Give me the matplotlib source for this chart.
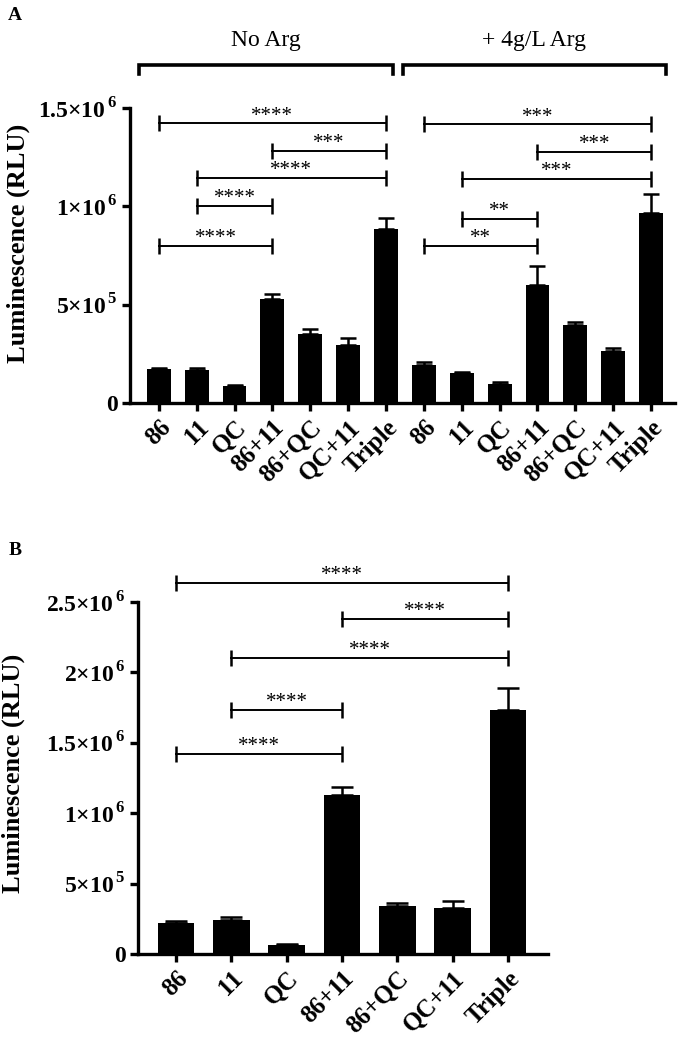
import numpy as np
import matplotlib
matplotlib.use('Agg')
import matplotlib.pyplot as plt
from matplotlib.ticker import FixedLocator, FuncFormatter

plt.rcParams["font.family"] = ["Liberation Serif", "DejaVu Serif"]
plt.rcParams["mathtext.fontset"] = "custom"
plt.rcParams["mathtext.rm"] = "Liberation Serif:bold"
plt.rcParams["mathtext.bf"] = "Liberation Serif:bold"

# data
groups = ['86', '11', 'QC', '86+11', '86+QC', 'QC+11', 'Triple']

noarg_mean = [171e3, 168e3, 88e3, 527e3, 351e3, 293e3, 883e3]
noarg_err = [5e3, 10e3, 3e3, 27e3, 25e3, 37e3, 59e3]
arg_mean = [193e3, 151e3, 95e3, 600e3, 396e3, 266e3, 967e3]
arg_err = [17e3, 8e3, 10e3, 98e3, 17e3, 15e3, 95e3]

b_mean = [222e3, 240e3, 62e3, 1127e3, 342e3, 327e3, 1734e3]
b_err = [10e3, 21e3, 11e3, 59e3, 23e3, 50e3, 152e3]

# comparisons: (left bar, right bar, label, bracket height)
noarg_sig = [(0, 6, '****', 1.422e6), (3, 6, '***', 1.283e6), (1, 6, '****', 1.144e6),
             (1, 3, '****', 1.002e6), (0, 3, '****', 0.798e6)]
arg_sig = [(0, 6, '***', 1.417e6), (3, 6, '***', 1.276e6), (1, 6, '***', 1.138e6),
           (1, 3, '**', 0.936e6), (0, 3, '**', 0.800e6)]
b_sig = [(0, 6, '****', 2.638e6), (3, 6, '****', 2.382e6), (1, 6, '****', 2.104e6),
         (1, 3, '****', 1.734e6), (0, 3, '****', 1.423e6)]


def sci(v, pos):
    if v == 0:
        return '0'
    e = int(np.floor(np.log10(v)))
    m = v / 10**e
    ms = ('%g' % m)
    return ms + '\u00d710$^{\\,%d}$' % e


def style_axis(ax, yticks):
    for s in ['top', 'right']:
        ax.spines[s].set_visible(False)
    for s in ['left', 'bottom']:
        ax.spines[s].set_linewidth(2.4)
    ax.yaxis.set_major_locator(FixedLocator(yticks))
    ax.yaxis.set_major_formatter(FuncFormatter(sci))
    ax.tick_params(axis='both', width=2.4, length=6, labelsize=17, pad=3)
    for lab in ax.get_yticklabels():
        lab.set_fontweight('bold')


def brackets(ax, sig, off, fs=15):
    for i, j, lab, h in sig:
        ax.plot([i + off, j + off], [h, h], color='black', lw=1.4, marker='|',
                markersize=12, markeredgewidth=1.8, clip_on=False)
        ax.annotate(lab, xy=((i + j) / 2 + off, h), xytext=(0, 2), textcoords='offset points',
                    ha='center', va='baseline', fontsize=fs, annotation_clip=False)


fig = plt.figure(figsize=(6.79, 10.39), dpi=100)

# ---- panel A
axA = fig.add_axes([0.1915, 0.6121, 0.8025, 0.2839])
x = np.arange(14)
meansA = noarg_mean + arg_mean
errsA = noarg_err + arg_err
axA.bar(x, meansA, width=0.63, color='black')
axA.errorbar(x, meansA, yerr=[np.zeros(14), errsA], fmt='none', ecolor='black',
             elinewidth=1.8, capsize=5.5, capthick=1.8)
axA.set_xlim(-0.76, 13.63)
axA.set_ylim(0, 1.5e6)
style_axis(axA, [0, 5e5, 1e6, 1.5e6])
axA.set_xticks(x)
axA.set_xticklabels(groups + groups, rotation=45, ha='right', rotation_mode='anchor',
                    fontweight='bold', fontsize=18)
axA.set_ylabel('Luminescence (RLU)', fontsize=19, fontweight='bold')
axA.yaxis.set_label_coords(-0.183, 0.54)
brackets(axA, noarg_sig, 0)
brackets(axA, arg_sig, 7)

# group brackets on top
for x0, x1, lab in [(-0.53, 6.18, 'No Arg'), (6.45, 13.39, '+ 4g/L Arg')]:
    axA.plot([x0, x0, x1, x1], [1.673e6, 1.719e6, 1.719e6, 1.673e6], color='black',
             lw=2.6, clip_on=False, solid_joinstyle='miter')
    axA.text((x0 + x1) / 2, 1.79e6, lab, ha='center', va='bottom', fontsize=17)

# ---- panel B
axB = fig.add_axes([0.2032, 0.0818, 0.6038, 0.3388])
xb = np.arange(7)
axB.bar(xb, b_mean, width=0.66, color='black')
axB.errorbar(xb, b_mean, yerr=[np.zeros(7), b_err], fmt='none', ecolor='black',
             elinewidth=1.8, capsize=8, capthick=1.8)
axB.set_xlim(-0.685, 6.72)
axB.set_ylim(0, 2.5e6)
style_axis(axB, [0, 5e5, 1e6, 1.5e6, 2e6, 2.5e6])
axB.set_xticks(xb)
axB.set_xticklabels(groups, rotation=45, ha='right', rotation_mode='anchor',
                    fontweight='bold', fontsize=18)
axB.set_ylabel('Luminescence (RLU)', fontsize=19, fontweight='bold')
axB.yaxis.set_label_coords(-0.276, 0.514)
brackets(axB, b_sig, 0)

fig.text(0.012, 0.993, 'A', fontsize=14, fontweight='bold', va='top')
fig.text(0.012, 0.478, 'B', fontsize=14, fontweight='bold', va='top')

fig.savefig('out.png', dpi=100)
